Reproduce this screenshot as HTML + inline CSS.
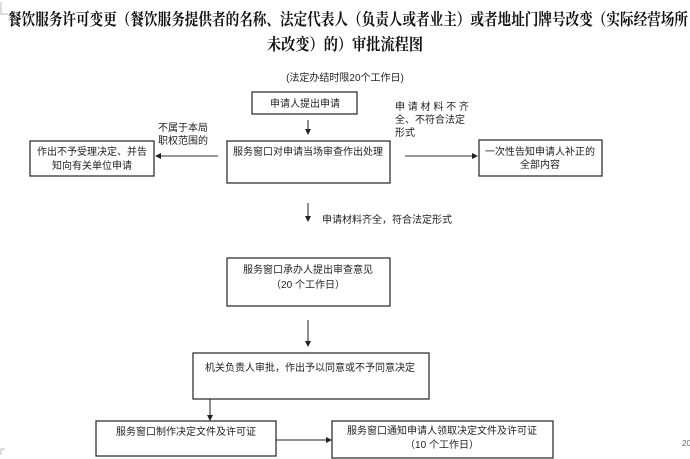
<!DOCTYPE html>
<html><head><meta charset="utf-8"><style>
html,body{margin:0;padding:0;background:#fff;}
svg{display:block;}
text{font-family:"Liberation Sans","Noto Sans CJK SC",sans-serif;fill:#222;}
.t{font-family:"Liberation Serif","Noto Serif CJK SC",serif;font-weight:bold;font-size:16.5px;fill:#111;}
.s{font-size:10px;}
.b{fill:#fff;stroke:#222;stroke-width:1.2;}
.l{stroke:#777;stroke-width:1.5;fill:none;}
.k{stroke:#222;stroke-width:1;fill:none;}
</style></head><body>
<svg width="690" height="459" viewBox="0 0 690 459" xmlns="http://www.w3.org/2000/svg">
<path d="M1 2 V14 H8" stroke="#bbb" fill="none"/>
<text class="t" x="8" y="25" textLength="680" lengthAdjust="spacingAndGlyphs">餐饮服务许可变更（餐饮服务提供者的名称、法定代表人（负责人或者业主）或者地址门牌号改变（实际经营场所</text>
<text class="t" x="267" y="50" textLength="156" lengthAdjust="spacingAndGlyphs">未改变）的）审批流程图</text>
<text class="s" x="345" y="81" text-anchor="middle">(法定办结时限20个工作日)</text>

<rect class="b" x="252" y="92" width="105" height="22"/>
<text class="s" x="305" y="107" text-anchor="middle">申请人提出申请</text>
<path class="k" d="M308 120 V131"/><path d="M305 129 L308 135 L311 129Z" fill="#222"/>

<rect class="b" x="227" y="141" width="163" height="42"/>
<text class="s" x="308" y="155" text-anchor="middle">服务窗口对申请当场审查作出处理</text>

<text class="s" x="395" y="110">申 请 材 料 不 齐</text>
<text class="s" x="395" y="123">全、不符合法定</text>
<text class="s" x="395" y="136">形式</text>
<path class="l" d="M405 156 H472"/><path d="M472 153 L478 156 L472 159Z" fill="#222"/>
<rect class="b" x="479" y="140" width="123" height="36"/>
<text class="s" x="540" y="155" text-anchor="middle">一次性告知申请人补正的</text>
<text class="s" x="540" y="168" text-anchor="middle">全部内容</text>

<text class="s" x="158" y="131">不属于本局</text>
<text class="s" x="158" y="144">职权范围的</text>
<path class="l" d="M218 156 H161"/><path d="M161 153 L155 156 L161 159Z" fill="#222"/>
<rect class="b" x="30" y="141" width="124" height="35"/>
<text class="s" x="92" y="155" text-anchor="middle">作出不予受理决定、并告</text>
<text class="s" x="92" y="169" text-anchor="middle">知向有关单位申请</text>

<path class="k" d="M308 203 V217"/><path d="M305 216 L308 222 L311 216Z" fill="#222"/>
<text class="s" x="322" y="223">申请材料齐全，符合法定形式</text>

<rect class="b" x="227" y="258" width="163" height="48"/>
<text class="s" x="308" y="273" text-anchor="middle">服务窗口承办人提出审查意见</text>
<text class="s" x="308" y="288" text-anchor="middle">（20 个工作日）</text>

<path class="k" d="M308 320 V342"/><path d="M305 341 L308 347 L311 341Z" fill="#222"/>

<rect class="b" x="193" y="353" width="236" height="46"/>
<text class="s" x="310" y="371" text-anchor="middle">机关负责人审批，作出予以同意或不予同意决定</text>

<path class="k" d="M210 399 V416"/><path d="M207 415 L210 421 L213 415Z" fill="#222"/>
<rect class="b" x="96" y="421" width="180" height="35"/>
<text class="s" x="186" y="435" text-anchor="middle">服务窗口制作决定文件及许可证</text>
<path class="k" d="M276 440 H326"/><path d="M326 437 L332 440 L326 443Z" fill="#222"/>
<rect class="b" x="332" y="421" width="221" height="37"/>
<text class="s" x="442" y="434" text-anchor="middle">服务窗口通知申请人领取决定文件及许可证</text>
<text class="s" x="442" y="448" text-anchor="middle">（10 个工作日）</text>
<text style="font-size:8px;fill:#666" x="682" y="446">20</text>
<path d="M1 455 V449 H5" stroke="#bbb" fill="none"/>
</svg>
</body></html>
